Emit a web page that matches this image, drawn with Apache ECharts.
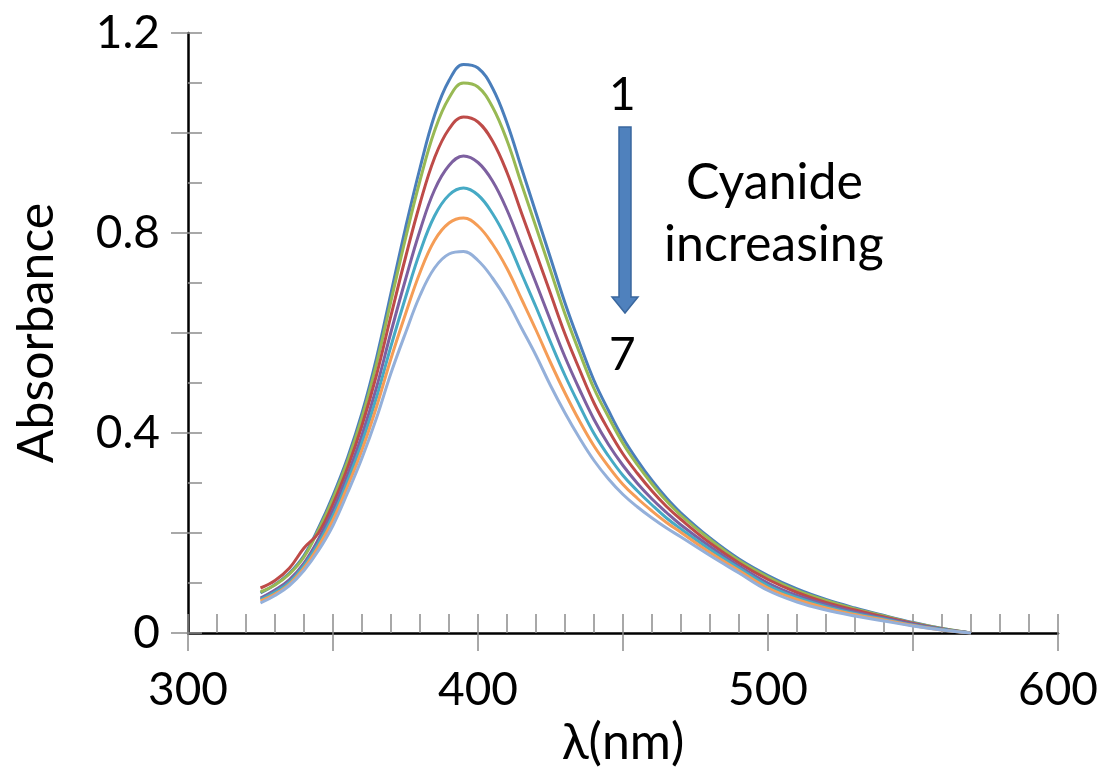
<!DOCTYPE html>
<html>
<head>
<meta charset="utf-8">
<script src="https://cdn.jsdelivr.net/npm/echarts@6/dist/echarts.min.js"></script>
<style>
html,body{margin:0;padding:0;background:#fff;}
#c{width:1107px;height:767px;}
</style>
</head>
<body>
<div id="c"></div>
<script>
const wavelengths = [325,330,335,340,345,350,355,360,365,370,375,380,385,390,395,400,405,410,415,420,425,430,435,440,445,450,455,460,465,470,480,490,500,510,520,530,540,550,560,570];
const s1 = [0.080,0.097,0.120,0.155,0.210,0.275,0.350,0.440,0.550,0.680,0.810,0.930,1.035,1.105,1.137,1.130,1.090,1.020,0.930,0.840,0.750,0.660,0.580,0.505,0.445,0.390,0.345,0.305,0.270,0.240,0.190,0.148,0.115,0.088,0.067,0.050,0.035,0.021,0.009,0.000];
const s2 = [0.082,0.096,0.118,0.152,0.206,0.269,0.343,0.431,0.538,0.664,0.789,0.905,1.004,1.070,1.100,1.092,1.052,0.985,0.898,0.812,0.725,0.638,0.561,0.489,0.432,0.379,0.336,0.298,0.264,0.235,0.187,0.145,0.112,0.085,0.065,0.048,0.034,0.020,0.009,0.000];
const s3 = [0.090,0.105,0.130,0.170,0.200,0.258,0.330,0.415,0.516,0.635,0.751,0.859,0.950,1.008,1.032,1.022,0.984,0.921,0.840,0.760,0.679,0.598,0.527,0.460,0.406,0.358,0.319,0.284,0.253,0.227,0.180,0.140,0.107,0.081,0.061,0.046,0.032,0.019,0.008,0.000];
const s4 = [0.070,0.086,0.107,0.140,0.188,0.246,0.316,0.396,0.491,0.602,0.707,0.805,0.886,0.935,0.954,0.941,0.904,0.846,0.773,0.700,0.625,0.552,0.487,0.427,0.377,0.335,0.299,0.268,0.241,0.216,0.173,0.134,0.100,0.075,0.057,0.042,0.030,0.018,0.008,0.000];
const s5 = [0.067,0.082,0.102,0.135,0.180,0.235,0.304,0.381,0.471,0.574,0.671,0.762,0.834,0.876,0.890,0.876,0.839,0.786,0.719,0.652,0.582,0.515,0.455,0.399,0.354,0.315,0.284,0.256,0.230,0.208,0.167,0.130,0.095,0.071,0.053,0.039,0.028,0.016,0.007,0.000];
const s6 = [0.064,0.078,0.098,0.130,0.173,0.226,0.293,0.366,0.452,0.549,0.638,0.721,0.785,0.820,0.830,0.814,0.778,0.729,0.668,0.606,0.541,0.480,0.424,0.374,0.333,0.297,0.269,0.244,0.221,0.201,0.161,0.125,0.090,0.067,0.050,0.037,0.026,0.015,0.006,0.000];
const s7 = [0.060,0.075,0.095,0.125,0.165,0.215,0.280,0.350,0.430,0.520,0.600,0.675,0.730,0.758,0.763,0.745,0.710,0.665,0.610,0.555,0.495,0.440,0.390,0.345,0.308,0.277,0.252,0.230,0.210,0.192,0.155,0.120,0.085,0.062,0.046,0.034,0.024,0.014,0.006,0.000];
const seriesData = [s1,s2,s3,s4,s5,s6,s7];
const seriesNames = ['1','2','3','4','5','6','7'];
const colors = ['#4A7EBB','#98B954','#BE4B48','#7D60A0','#46AAC5','#F59D56','#94B0DA'];
const xTicks = [300,400,500,600];
const yTicks = [0,0.4,0.8,1.2];

const FONT = 'Lato';
const chart = echarts.init(document.getElementById('c'));
const tickStyle = {color:'#8c8c8c', width:1.5};
function xLab(v){ return xTicks.indexOf(Math.round(v))>=0 ? String(Math.round(v)) : ''; }
function yLab(v){
  for (const t of yTicks){ if (Math.abs(v-t)<1e-6) return t===0?'0':t.toFixed(1); }
  return '';
}
const option = {
  animation:false,
  backgroundColor:'#fff',
  grid: {left:188, right:49, top:33, bottom:134, containLabel:false, outerBoundsMode:'none'},
  xAxis: [
    {type:'value', min:300, max:600, interval:50,
     axisLine:{show:true, onZero:false, lineStyle:{color:'#000', width:2.5}},
     axisTick:{show:true, inside:true, length:19, lineStyle:tickStyle},
     minorTick:{show:true, splitNumber:5, length:19, lineStyle:tickStyle},
     splitLine:{show:false},
     axisLabel:{formatter:xLab, fontFamily:FONT, fontSize:46, color:'#000', margin:34},
     name:'λ(nm)', nameLocation:'middle', nameGap:80,
     nameTextStyle:{fontFamily:FONT, fontSize:50, color:'#000'}},
    {type:'value', min:300, max:600, interval:50, position:'bottom',
     axisLine:{show:false},
     axisTick:{show:true, inside:false, length:18, lineStyle:tickStyle},
     axisLabel:{show:false}, splitLine:{show:false}}
  ],
  yAxis: [
    {type:'value', min:0, max:1.2, interval:0.2,
     axisLine:{show:true, onZero:false, lineStyle:{color:'#000', width:2.5}},
     axisTick:{show:true, inside:true, length:14, lineStyle:tickStyle},
     minorTick:{show:true, splitNumber:2, length:14, lineStyle:tickStyle},
     splitLine:{show:false},
     axisLabel:{formatter:yLab, fontFamily:FONT, fontSize:46, color:'#000', margin:28},
     name:'Absorbance', nameLocation:'middle', nameGap:126,
     nameTextStyle:{fontFamily:FONT, fontSize:50, color:'#000'}},
    {type:'value', min:0, max:1.2, interval:0.2, position:'left',
     axisLine:{show:false},
     axisTick:{show:true, inside:false, length:17, lineStyle:tickStyle},
     axisLabel:{show:false}, splitLine:{show:false}}
  ],
  series: seriesData.map((d,i)=>({
    name: seriesNames[i], type:'line', smooth:0.4, symbol:'none',
    xAxisIndex:0, yAxisIndex:0,
    lineStyle:{color:colors[i], width:3},
    data: wavelengths.map((x,j)=>[x,d[j]])
  })),
  graphic: [
    {type:'text', left:609, top:72, style:{text:'1', font:'46px Lato', fill:'#000'}},
    {type:'text', left:609, top:332, style:{text:'7', font:'46px Lato', fill:'#000'}},
    {type:'text', left:686, top:158, style:{text:'Cyanide', font:'50px Lato', fill:'#000'}},
    {type:'text', left:664, top:220, style:{text:'increasing', font:'50px Lato', fill:'#000'}},
    {type:'polygon', shape:{points:[[619,127],[631,127],[631,297],[638,297],[625,313],[612,297],[619,297]]},
     style:{fill:'#4F81BD', stroke:'#3A679E', lineWidth:1.5}}
  ]
};
chart.setOption(option);
</script>
</body>
</html>
